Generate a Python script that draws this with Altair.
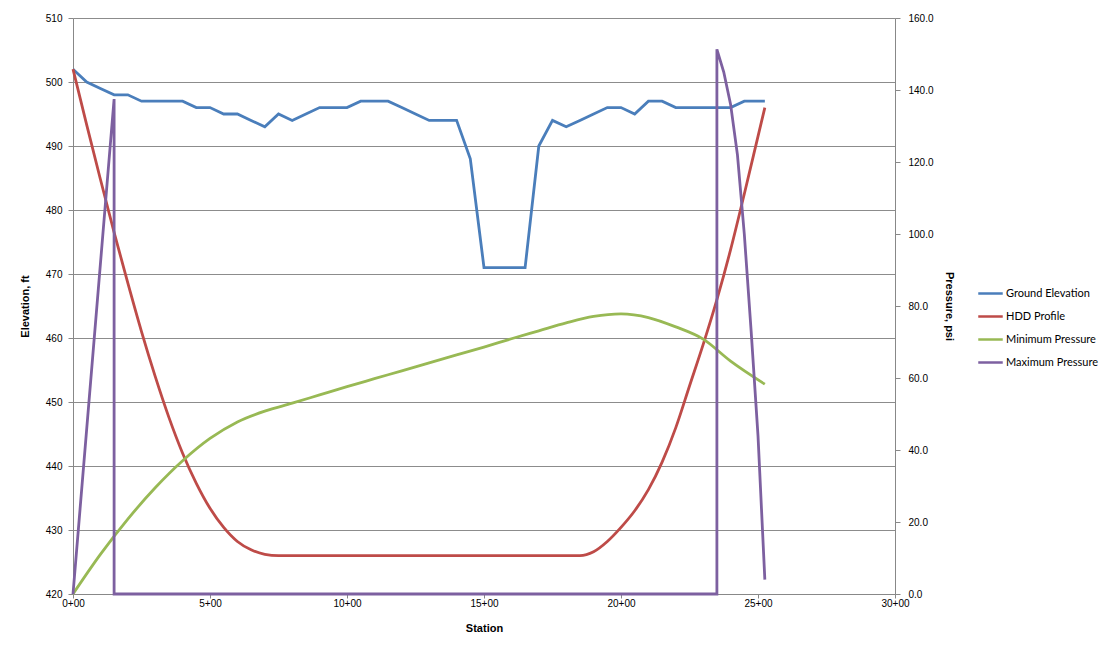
import altair as alt
import pandas as pd

# ---------------- data ----------------
series_names = ["Ground Elevation", "HDD Profile", "Minimum Pressure", "Maximum Pressure"]
series_colors = ["#4A7EBB", "#BE4B48", "#98B954", "#7D60A0"]

ground_station = [0, 50, 100, 150, 200, 250, 300, 350, 400, 450, 500, 550, 600, 650, 700,
                  750, 800, 850, 900, 950, 1000, 1050, 1100, 1150, 1200, 1250, 1300, 1350,
                  1400, 1450, 1500, 1550, 1600, 1650, 1700, 1750, 1800, 1850, 1900, 1950,
                  2000, 2050, 2100, 2150, 2200, 2250, 2300, 2350, 2400, 2450, 2500, 2525]
ground_elev = [502, 500, 499, 498, 498, 497, 497, 497, 497, 496, 496, 495, 495, 494, 493,
               495, 494, 495, 496, 496, 496, 497, 497, 497, 496, 495, 494, 494,
               494, 488, 471, 471, 471, 471, 490, 494, 493, 494, 495, 496,
               496, 495, 497, 497, 496, 496, 496, 496, 496, 497, 497, 497]

hdd_station = [0, 50, 100, 150, 200, 250, 300, 350, 400, 450, 500, 550, 600, 650, 700, 750,
               1850, 1900, 1950, 2000, 2050, 2100, 2150, 2200, 2250, 2300, 2350, 2400, 2450,
               2500, 2525]
hdd_elev = [502, 493.3, 484.8, 476.5, 468.6, 461, 454, 447.6, 442, 437.3, 433.4, 430.4, 428.2,
            426.9, 426.2, 426, 426, 426.6, 428.2, 430.4, 433, 436.3, 440.6, 446, 452.5, 459,
            466, 473.8, 482.5, 491.5, 496]

minp_station = [0, 100, 200, 300, 400, 500, 600, 700, 800, 900, 1000, 1100, 1200, 1300, 1400,
                1500, 1600, 1700, 1800, 1900, 2000, 2100, 2200, 2300, 2400, 2525]
minp_psi = [0, 11, 20.8, 29.5, 37, 43.2, 47.8, 50.8, 53, 55.3, 57.6, 59.8, 62, 64.2, 66.4,
            68.6, 70.9, 73.1, 75.3, 77.1, 77.8, 76.8, 74.2, 70.8, 64.7, 58.3]

maxp_station = [0, 150, 150, 2350, 2350, 2375, 2400, 2425, 2450, 2475, 2500, 2525]
maxp_psi = [0, 137.5, 0, 0, 151.3, 145, 136, 122, 100, 73, 44, 4]

x_ticks = [0, 500, 1000, 1500, 2000, 2500, 3000]
elev_ticks = [420, 430, 440, 450, 460, 470, 480, 490, 500, 510]
psi_ticks = [0, 20, 40, 60, 80, 100, 120, 140, 160]


def frame(name, xs, ys):
    return pd.DataFrame({"series": name, "station": xs, "value": ys, "i": range(len(xs))})


ground_df = frame(series_names[0], ground_station, ground_elev)
hdd_df = frame(series_names[1], hdd_station, hdd_elev)
minp_df = frame(series_names[2], minp_station, minp_psi)
maxp_df = frame(series_names[3], maxp_station, maxp_psi)

FONT = "Lato"
color_scale = alt.Scale(domain=series_names, range=series_colors)

x_enc = alt.X("station:Q",
              scale=alt.Scale(domain=[0, 3000], nice=False, zero=False),
              axis=alt.Axis(values=x_ticks, title="Station", grid=False, labelFlush=False,
                            labelExpr="floor(datum.value/100) + '+' + (datum.value % 100 < 10 ? '0' : '') + (datum.value % 100)",
                            tickSize=4, labelPadding=0, titlePadding=14))

color_enc = alt.Color("series:N", scale=color_scale,
                      legend=alt.Legend(title=None, orient="none", legendX=904, legendY=262,
                                        symbolType="stroke", symbolSize=600,
                                        symbolStrokeWidth=2.5, rowPadding=4,
                                        labelOffset=2, labelFontSize=11,
                                        labelFont=FONT, labelColor="#000000"))

y_elev = alt.Y("value:Q", scale=alt.Scale(domain=[420, 510], nice=False, zero=False),
               axis=alt.Axis(values=elev_ticks, title="Elevation, ft", grid=True,
                             gridColor="#8c8c8c", gridWidth=1, tickSize=5, labelPadding=6,
                             titlePadding=15))
y_psi = alt.Y("value:Q", scale=alt.Scale(domain=[0, 160], nice=False, zero=False),
              axis=alt.Axis(values=psi_ticks, orient="right", format=".1f",
                            title="Pressure, psi", grid=False, tickSize=5, labelPadding=8,
                            titlePadding=10))

ground_layer = alt.Chart(ground_df).mark_line(strokeWidth=2.8).encode(
    x=x_enc, y=y_elev, color=color_enc, order="i:Q")
hdd_layer = alt.Chart(hdd_df).mark_line(strokeWidth=2.8, interpolate="monotone").encode(
    x=x_enc, y=y_elev, color=color_enc, order="i:Q")
elev_layers = alt.layer(ground_layer, hdd_layer)

minp_layer = alt.Chart(minp_df).mark_line(strokeWidth=2.8, interpolate="monotone").encode(
    x=x_enc, y=y_psi, color=color_enc, order="i:Q")
maxp_layer = alt.Chart(maxp_df).mark_line(strokeWidth=2.8).encode(
    x=x_enc, y=y_psi, color=color_enc, order="i:Q")
psi_layers = alt.layer(minp_layer, maxp_layer)

chart = alt.layer(elev_layers, psi_layers).resolve_scale(y="independent").properties(
    width=822, height=576,
    autosize=alt.AutoSizeParams(type="none"),
    padding={"left": 65, "top": 10, "right": 208, "bottom": 50},
).configure_view(stroke=None).configure_axis(
    labelFont=FONT, labelFontSize=11, labelColor="#262626",
    titleFont=FONT, titleFontSize=11, titleFontWeight="bold", titleColor="#000000",
    domainColor="#8a8a8a", tickColor="#8a8a8a", domainWidth=1.2,
).configure(background="#ffffff")

chart.save("out.html", embed_options={"renderer": "svg", "actions": False})
